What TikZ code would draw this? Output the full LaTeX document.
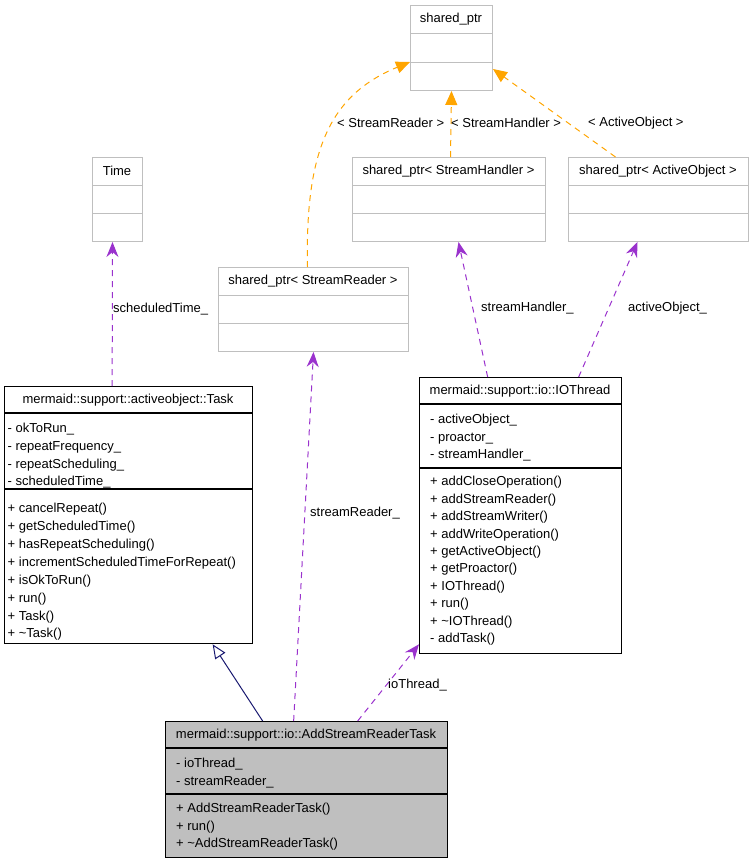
\documentclass[tikz,border=0pt]{standalone}
\usepackage{fontspec}
\setmainfont{Liberation Sans}
\usetikzlibrary{arrows.meta, positioning}

\definecolor{boxgray}{RGB}{191,191,191}
\definecolor{usecol}{RGB}{154,50,205}
\definecolor{tmplcol}{RGB}{255,165,0}
\definecolor{inhcol}{RGB}{25,25,112}

\begin{document}
\begin{tikzpicture}[x=1pt, y=-1pt, font=\fontsize{13}{17.4}\selectfont,
  box/.style={draw=black, line width=1.3pt, anchor=north west, inner sep=0pt},
  gbox/.style={box, draw=boxgray, line width=1pt},
  sect/.style={anchor=north west, align=left, inner sep=0pt},
  uses/.style={draw=usecol, line width=1pt, dash pattern=on 6pt off 5pt,
    -{Stealth[length=15pt, width=12pt, inset=5pt]}},
  tmpl/.style={draw=tmplcol, line width=1pt, dash pattern=on 6pt off 5pt,
    -{Triangle[length=14pt, width=12pt]}},
  inherit/.style={draw=inhcol, line width=1pt,
    -{Triangle[open, length=14pt, width=12pt, fill=white]}},
  lbl/.style={anchor=west, inner sep=0pt}]

\useasboundingbox (0,0) rectangle (753,864);

% template class at the top
\node[gbox, minimum width=82pt, minimum height=85pt] (sp) at (410,5) {};
\draw[boxgray] (410,33) -- (492,33) (410,62) -- (492,62);
\node (spT) at (451,19) {shared\_ptr};

% second row
\node[gbox, minimum width=50pt, minimum height=84pt] (time) at (92,157) {};
\draw[boxgray] (92,185) -- (142,185) (92,213) -- (142,213);
\node (timeT) at (117,171) {Time};

\node[gbox, minimum width=193pt, minimum height=84pt] (spsh) at (352,157) {};
\draw[boxgray] (352,185) -- (545,185) (352,213) -- (545,213);
\node (spshT) at (448.5,171) {shared\_ptr< StreamHandler >};

\node[gbox, minimum width=180pt, minimum height=84pt] (spao) at (568,157) {};
\draw[boxgray] (568,185) -- (748,185) (568,213) -- (748,213);
\node (spaoT) at (658,171) {shared\_ptr< ActiveObject >};

\node[gbox, minimum width=190pt, minimum height=84pt] (spsr) at (218,267) {};
\draw[boxgray] (218,295) -- (408,295) (218,323) -- (408,323);
\node (spsrT) at (313,281) {shared\_ptr< StreamReader >};

% Task
\node[box, minimum width=248pt, minimum height=257pt] (task) at (4,386) {};
\draw[line width=1.3pt] (4,413) -- (252,413) (4,489) -- (252,489);
\node (taskT) at (128,400) {mermaid::support::activeobject::Task};
\node[sect, font=\fontsize{13}{17.7}\selectfont] (taskA) at (7.5,423)
  {- okToRun\_\\- repeatFrequency\_\\- repeatScheduling\_\\- scheduledTime\_};
\node[sect, font=\fontsize{13}{17.85}\selectfont] (taskM) at (7.5,503.3)
  {+ cancelRepeat()\\+ getScheduledTime()\\+ hasRepeatScheduling()\\
   + incrementScheduledTimeForRepeat()\\+ isOkToRun()\\+ run()\\+ Task()\\
   + \textasciitilde Task()};

% IOThread
\node[box, minimum width=202pt, minimum height=276pt] (io) at (419,377) {};
\draw[line width=1.3pt] (419,404) -- (621,404) (419,468) -- (621,468);
\node (ioT) at (520,391) {mermaid::support::io::IOThread};
\node[sect] (ioA) at (430,414.3)
  {- activeObject\_\\- proactor\_\\- streamHandler\_};
\node[sect] (ioM) at (430,476.3)
  {+ addCloseOperation()\\+ addStreamReader()\\+ addStreamWriter()\\
   + addWriteOperation()\\+ getActiveObject()\\+ getProactor()\\
   + IOThread()\\+ run()\\+ \textasciitilde IOThread()\\- addTask()};

% the class itself
\node[box, fill=boxgray, minimum width=282pt, minimum height=136pt] (asrt) at (165,721) {};
\draw[line width=1.3pt] (165,748) -- (447,748) (165,794) -- (447,794);
\node (asrtT) at (306,735) {mermaid::support::io::AddStreamReaderTask};
\node[sect] (asrtA) at (176,758.3) {- ioThread\_\\- streamReader\_};
\node[sect] (asrtM) at (176,803.3)
  {+ AddStreamReaderTask()\\+ run()\\+ \textasciitilde AddStreamReaderTask()};

% template instances
\draw[tmpl] ([xshift=-6pt]spsr.north) .. controls (305,150) and (330,95) ..
  ([yshift=-57pt]sp.north west);
\draw[tmpl] ([xshift=1.5pt]spsh.north) -- (sp.south);
\draw[tmpl] ([xshift=-43pt]spao.north) -- ([yshift=-64pt]sp.north east);
\node[lbl] (lSR) at (337,123) {< StreamReader >};
\node[lbl] (lSH) at (451,123) {< StreamHandler >};
\node[lbl] (lAO) at (588,123) {< ActiveObject >};

% usage relations
\draw[uses] ([xshift=-16.5pt]task.north) -- ([xshift=-5pt]time.south);
\draw[uses] ([xshift=-13pt]asrt.north) -- (spsr.south);
\draw[uses] ([xshift=51pt]asrt.north) -- ([yshift=10pt]io.south west);
\draw[uses] ([xshift=-33pt]io.north) -- ([xshift=9.5pt]spsh.south);
\draw[uses] ([xshift=58pt]io.north) -- ([xshift=-21pt]spao.south);
\node[lbl] (lST) at (113,309) {scheduledTime\_};
\node[lbl] (lSRd) at (310,513) {streamReader\_};
\node[lbl] (lIO) at (388,685) {ioThread\_};
\node[lbl] (lSHd) at (481,308) {streamHandler\_};
\node[lbl] (lAOd) at (628,308) {activeObject\_};

% inheritance
\draw[inherit] ([xshift=-44pt]asrt.north) -- ([xshift=84pt]task.south);

\end{tikzpicture}
\end{document}
